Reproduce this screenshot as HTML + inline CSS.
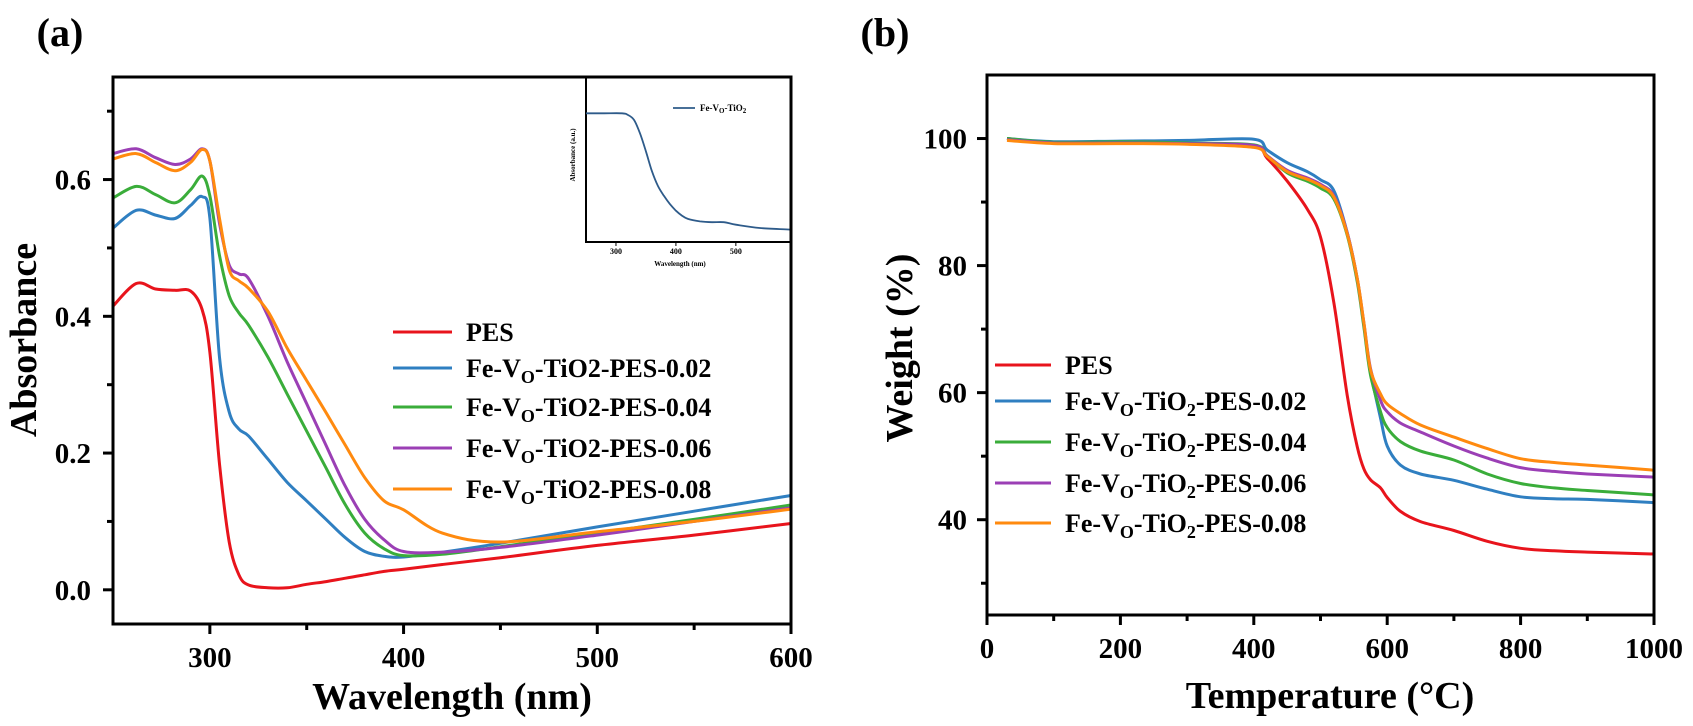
<!DOCTYPE html>
<html><head><meta charset="utf-8"><style>
html,body{margin:0;padding:0;background:#fff;}
svg{display:block;font-family:"Liberation Serif",serif;font-weight:bold;}
</style></head><body>
<svg id="fig" width="1693" height="726" viewBox="0 0 1693 726" xmlns="http://www.w3.org/2000/svg"></svg>
<script>
// ---------- Panel (a) data ----------
const wavelengths = [250,262,272,282,290,296,300,305,310,315,320,330,340,350,360,370,380,390,400,420,450,500,550,600];
const absPES  = [0.415,0.448,0.44,0.438,0.437,0.41,0.347,0.184,0.07,0.022,0.007,0.003,0.003,0.008,0.012,0.017,0.022,0.027,0.03,0.037,0.047,0.065,0.08,0.097];
const abs002  = [0.529,0.555,0.548,0.543,0.562,0.575,0.543,0.34,0.26,0.235,0.225,0.191,0.157,0.13,0.103,0.076,0.056,0.049,0.048,0.055,0.068,0.092,0.115,0.138];
const abs004  = [0.573,0.59,0.578,0.566,0.585,0.605,0.576,0.489,0.43,0.405,0.387,0.34,0.286,0.232,0.178,0.124,0.083,0.06,0.05,0.052,0.063,0.083,0.103,0.124];
const abs006  = [0.638,0.645,0.632,0.622,0.63,0.645,0.627,0.536,0.475,0.462,0.455,0.40,0.333,0.272,0.211,0.151,0.103,0.073,0.056,0.055,0.062,0.08,0.1,0.12];
const abs008  = [0.63,0.638,0.625,0.613,0.625,0.644,0.627,0.543,0.468,0.452,0.441,0.407,0.353,0.306,0.259,0.211,0.164,0.13,0.117,0.083,0.07,0.085,0.1,0.118];
const aXTicks = [300,400,500,600];
const aXMinor = [350,450,550];
const aYTicks = [0.0,0.2,0.4,0.6];
const aYMinor = [0.1,0.3,0.5,0.7];
const aYLabels = ["0.0","0.2","0.4","0.6"];
// inset
const insetWl  = [250,280,310,320,330,340,350,360,370,380,390,400,410,420,440,460,480,500,540,592];
const insetAbs = [0.78,0.78,0.78,0.77,0.74,0.66,0.55,0.43,0.34,0.28,0.23,0.19,0.16,0.14,0.125,0.12,0.12,0.105,0.085,0.075];
const insetTicks = [300,400,500];
// ---------- Panel (b) data ----------
const temps = [30,100,200,300,400,420,450,480,500,520,540,555,565,575,590,600,620,650,700,750,800,850,900,1000];
const wPES = [100,99.3,99.4,99.2,98.7,96.9,93.3,88.9,84.5,74.2,59.6,51.5,48,46.3,45,43.5,41.3,39.7,38.3,36.6,35.5,35.1,34.9,34.6];
const w002 = [100,99.5,99.6,99.7,99.9,98.2,96.2,94.8,93.5,91.8,85.2,77.9,70.6,63.3,56,51.6,48.6,47.2,46.2,44.8,43.6,43.3,43.2,42.7];
const w004 = [100,99.4,99.5,99.3,99.0,97.3,94.6,93.3,92.2,90.5,84.8,77.5,70.3,62.8,57,54.5,52.3,50.8,49.4,47.2,45.7,45,44.6,43.9];
const w006 = [99.8,99.3,99.3,99.2,98.9,97.3,95,93.8,92.8,91,85.2,78,71,63.8,58.8,57,55.2,53.8,51.6,49.7,48.2,47.6,47.2,46.7];
const w008 = [99.7,99.2,99.2,99.1,98.6,97.2,94.8,93.6,92.6,90.8,85,78,71,63.6,59.8,58.2,56.7,54.9,53,51.2,49.6,49,48.6,47.8];
const bXTicks = [0,200,400,600,800,1000];
const bXMinor = [100,300,500,700,900];
const bYTicks = [40,60,80,100];
const bYMinor = [30,50,70,90];

const COLORS = ["#e8141c","#2f7fc1","#3aad3a","#9b3fb5","#ff8a0f"];
const NS = "http://www.w3.org/2000/svg";
const svg = document.getElementById('fig');
function mk(tag, attrs, parent){ const e=document.createElementNS(NS,tag); for(const k in attrs) e.setAttribute(k,attrs[k]); (parent||svg).appendChild(e); return e; }
function lin(d0,d1,r0,r1){ return v => r0 + (v-d0)*(r1-r0)/(d1-d0); }
function pathD(xs,ys,sx,sy){
  const P = xs.map((x,i)=>[sx(x), sy(ys[i])]);
  let d = 'M'+P[0][0].toFixed(1)+','+P[0][1].toFixed(1);
  for(let i=0;i<P.length-1;i++){
    const p0=P[Math.max(0,i-1)], p1=P[i], p2=P[i+1], p3=P[Math.min(P.length-1,i+2)];
    const k=1/6;
    const c1=[p1[0]+(p2[0]-p0[0])*k, p1[1]+(p2[1]-p0[1])*k];
    const c2=[p2[0]-(p3[0]-p1[0])*k, p2[1]-(p3[1]-p1[1])*k];
    d += ' C'+c1[0].toFixed(1)+','+c1[1].toFixed(1)+' '+c2[0].toFixed(1)+','+c2[1].toFixed(1)+' '+p2[0].toFixed(1)+','+p2[1].toFixed(1);
  }
  return d;
}

// ===== Panel (a) =====
const ax = lin(250,600,113,791), ay = lin(-0.05,0.75,624,77);
const gA = mk('g',{});  
const lblA = mk('text',{x:60,y:46,'font-size':40,'text-anchor':'middle'},gA); lblA.textContent='(a)';
 
const seriesA=[absPES,abs002,abs004,abs006,abs008];
const namesA=['pes','0-02','0-04','0-06','0-08'];
seriesA.forEach((s,i)=>{ const p=mk('path',{d:pathD(wavelengths,s,ax,ay),fill:'none',stroke:COLORS[i],'stroke-width':3,'stroke-linejoin':'round'},gA);
    });
// inset
const ix = lin(250,592,586,791), iy = lin(0,1,242,77);
const inset = mk('g',{},gA);  
mk('line',{x1:586,y1:77,x2:586,y2:243,stroke:'#000','stroke-width':2},inset);
mk('line',{x1:585,y1:242,x2:791,y2:242,stroke:'#000','stroke-width':2},inset);
insetTicks.forEach(t=>{ mk('line',{x1:ix(t),y1:242,x2:ix(t),y2:246,stroke:'#000','stroke-width':1},inset);
  const tt=mk('text',{x:ix(t),y:254,'font-size':8,'text-anchor':'middle'},inset); tt.textContent=t; });
const ip=mk('path',{d:pathD(insetWl,insetAbs,ix,iy),fill:'none',stroke:'#2e5b8a','stroke-width':1.8},inset);
 
mk('line',{x1:673,y1:108,x2:695,y2:108,stroke:'#2e5b8a','stroke-width':1.8},inset);
const il=mk('text',{x:700,y:111,'font-size':9},inset); il.innerHTML='Fe-V<tspan font-size="7" dy="2">O</tspan><tspan dy="-2">-TiO</tspan><tspan font-size="7" dy="2">2</tspan>';
 
const iyl=mk('text',{x:0,y:0,'font-size':7,'text-anchor':'middle',transform:'translate(575,155) rotate(-90)'},inset); iyl.textContent='Absorbance (a.u.)';
const ixl=mk('text',{x:680,y:266,'font-size':7,'text-anchor':'middle'},inset); ixl.textContent='Wavelength (nm)';
// frame
const frA=mk('rect',{x:113,y:77,width:678,height:547,fill:'none',stroke:'#000','stroke-width':3},gA);
 
aXTicks.forEach(t=>{ mk('line',{x1:ax(t),y1:624,x2:ax(t),y2:634,stroke:'#000','stroke-width':3},gA);
  const tt=mk('text',{x:ax(t),y:667,'font-size':29,'text-anchor':'middle'},gA); tt.textContent=t;
    });
aXMinor.forEach(t=>mk('line',{x1:ax(t),y1:624,x2:ax(t),y2:630,stroke:'#000','stroke-width':3},gA));
aYTicks.forEach((t,i)=>{ mk('line',{x1:103,y1:ay(t),x2:113,y2:ay(t),stroke:'#000','stroke-width':3},gA);
  const tt=mk('text',{x:91,y:ay(t)+10,'font-size':29,'text-anchor':'end'},gA); tt.textContent=aYLabels[i];
    });
aYMinor.forEach(t=>mk('line',{x1:107,y1:ay(t),x2:113,y2:ay(t),stroke:'#000','stroke-width':3},gA));
const xtA=mk('text',{x:452,y:709,'font-size':38,'text-anchor':'middle'},gA); xtA.textContent='Wavelength (nm)';
 
const ytA=mk('text',{x:0,y:0,'font-size':38,'text-anchor':'middle',transform:'translate(36,340) rotate(-90)'},gA); ytA.textContent='Absorbance';
 
// legend a
const legA=['PES','0.02','0.04','0.06','0.08'];
const legAy=[332,368,407,448,489];
legA.forEach((l,i)=>{ mk('line',{x1:393,y1:legAy[i],x2:452,y2:legAy[i],stroke:COLORS[i],'stroke-width':3},gA);
  const t=mk('text',{x:466,y:legAy[i]+9,'font-size':26},gA);
  if(i===0) t.textContent='PES'; else t.innerHTML='Fe-V<tspan font-size="18" dy="6">O</tspan><tspan dy="-6">-TiO2-PES-'+l+'</tspan>';
    });

// ===== Panel (b) =====
const bx = lin(0,1000,987,1654), by = lin(25,110,615,75);
const gB = mk('g',{});  
const lblB = mk('text',{x:885,y:46,'font-size':40,'text-anchor':'middle'},gB); lblB.textContent='(b)';
 
const seriesB=[wPES,w002,w004,w006,w008];
seriesB.forEach((s,i)=>{ const p=mk('path',{d:pathD(temps,s,bx,by),fill:'none',stroke:COLORS[i],'stroke-width':3,'stroke-linejoin':'round'},gB);
    });
const frB=mk('rect',{x:987,y:75,width:667,height:540,fill:'none',stroke:'#000','stroke-width':3},gB);
 
bXTicks.forEach(t=>{ mk('line',{x1:bx(t),y1:615,x2:bx(t),y2:625,stroke:'#000','stroke-width':3},gB);
  const tt=mk('text',{x:bx(t),y:658,'font-size':29,'text-anchor':'middle'},gB); tt.textContent=t;
    });
bXMinor.forEach(t=>mk('line',{x1:bx(t),y1:615,x2:bx(t),y2:621,stroke:'#000','stroke-width':3},gB));
bYTicks.forEach(t=>{ mk('line',{x1:977,y1:by(t),x2:987,y2:by(t),stroke:'#000','stroke-width':3},gB);
  const tt=mk('text',{x:967,y:by(t)+10,'font-size':29,'text-anchor':'end'},gB); tt.textContent=t;
    });
bYMinor.forEach(t=>mk('line',{x1:981,y1:by(t),x2:987,y2:by(t),stroke:'#000','stroke-width':3},gB));
const xtB=mk('text',{x:1330,y:708,'font-size':38,'text-anchor':'middle'},gB); xtB.textContent='Temperature (°C)';
 
const ytB=mk('text',{x:0,y:0,'font-size':38,'text-anchor':'middle',transform:'translate(912,348) rotate(-90)'},gB); ytB.textContent='Weight (%)';
 
const legBy=[365,401,442,483,523];
legA.forEach((l,i)=>{ mk('line',{x1:995,y1:legBy[i],x2:1051,y2:legBy[i],stroke:COLORS[i],'stroke-width':3},gB);
  const t=mk('text',{x:1065,y:legBy[i]+9,'font-size':26},gB);
  if(i===0) t.textContent='PES'; else t.innerHTML='Fe-V<tspan font-size="18" dy="6">O</tspan><tspan dy="-6">-TiO</tspan><tspan font-size="18" dy="6">2</tspan><tspan dy="-6">-PES-'+l+'</tspan>';
    });
</script>
</body></html>
